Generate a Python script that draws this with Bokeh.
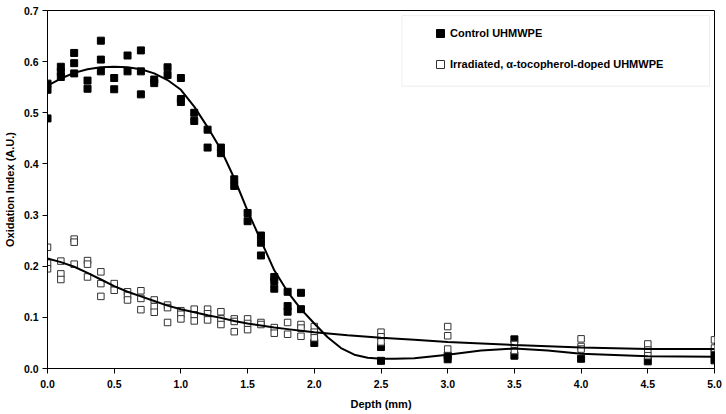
from bokeh.plotting import figure
from bokeh.models import (Range1d, FixedTicker, NumeralTickFormatter, Legend,
                          LegendItem, BoxAnnotation)
from bokeh.embed import file_html
from bokeh.resources import INLINE

# ---------------- data ----------------
control_depth = [0.0, 0.1, 0.2, 0.3, 0.4, 0.5, 0.6, 0.7, 0.8, 0.9, 1.0, 1.1, 1.2,
                 1.3, 1.4, 1.5, 1.6, 1.7, 1.8, 1.9, 2.0, 2.5, 3.0, 3.5, 4.0, 4.5, 5.0]
control_oi = [
    [0.557, 0.545, 0.489], [0.590, 0.580, 0.570], [0.617, 0.597, 0.577],
    [0.563, 0.547], [0.641, 0.604, 0.581], [0.568, 0.546], [0.612, 0.581],
    [0.622, 0.581, 0.536], [0.565, 0.558], [0.589, 0.574], [0.568, 0.527, 0.521],
    [0.500, 0.484], [0.467, 0.432], [0.432, 0.421], [0.370, 0.357], [0.304, 0.288],
    [0.260, 0.246, 0.221], [0.179, 0.171, 0.156], [0.150, 0.122, 0.111],
    [0.148, 0.116], [0.050], [0.042, 0.015], [0.025, 0.018], [0.057, 0.025],
    [0.019], [0.014], [0.030, 0.016],
]

doped_depth = [0.0, 0.1, 0.2, 0.3, 0.4, 0.5, 0.6, 0.7, 0.8, 0.9, 1.0, 1.1, 1.2,
               1.3, 1.4, 1.5, 1.6, 1.7, 1.8, 1.9, 2.0, 2.5, 3.0, 3.5, 4.0, 4.5, 5.0]
doped_oi = [
    [0.237, 0.206, 0.195], [0.210, 0.185, 0.174], [0.253, 0.247, 0.204],
    [0.211, 0.204, 0.179], [0.189, 0.166, 0.141], [0.166, 0.153],
    [0.150, 0.143, 0.134], [0.152, 0.137, 0.115], [0.134, 0.121, 0.110],
    [0.124, 0.119, 0.090], [0.113, 0.106, 0.097], [0.116, 0.105, 0.093],
    [0.116, 0.107, 0.095], [0.111, 0.097, 0.086], [0.097, 0.092, 0.072],
    [0.097, 0.088, 0.076], [0.090, 0.086], [0.080, 0.069], [0.090, 0.067],
    [0.086, 0.079, 0.063], [0.082, 0.071, 0.060], [0.071, 0.062, 0.052],
    [0.082, 0.064, 0.038], [0.047, 0.035], [0.058, 0.043, 0.038],
    [0.048, 0.036, 0.025], [0.056, 0.040],
]

# fitted curves
control_fit_x = [0.0, 0.1, 0.2, 0.3, 0.4, 0.5, 0.6, 0.7, 0.8, 0.9, 1.0, 1.1, 1.2, 1.3,
                 1.4, 1.5, 1.6, 1.7, 1.8, 1.9, 2.0, 2.1, 2.2, 2.3, 2.4, 2.5, 2.6,
                 2.75, 3.0, 3.25, 3.5, 3.75, 4.0, 4.5, 5.0]
control_fit_y = [0.553, 0.567, 0.578, 0.585, 0.589, 0.590, 0.589, 0.585, 0.577, 0.564,
                 0.545, 0.512, 0.472, 0.428, 0.372, 0.308, 0.250, 0.192, 0.150, 0.116,
                 0.088, 0.061, 0.040, 0.027, 0.021, 0.019, 0.019, 0.020, 0.027, 0.035,
                 0.039, 0.035, 0.029, 0.024, 0.023]

doped_fit_x = [0.0, 0.1, 0.2, 0.3, 0.4, 0.5, 0.6, 0.7, 0.8, 0.9, 1.0, 1.1, 1.2, 1.3,
               1.4, 1.5, 1.6, 1.7, 1.8, 1.9, 2.0, 2.25, 2.5, 2.75, 3.0, 3.5, 4.0, 4.5, 5.0]
doped_fit_y = [0.215, 0.208, 0.199, 0.187, 0.174, 0.161, 0.150, 0.141, 0.132, 0.123,
               0.116, 0.110, 0.104, 0.099, 0.093, 0.088, 0.084, 0.080, 0.077, 0.074,
               0.071, 0.065, 0.060, 0.056, 0.052, 0.046, 0.041, 0.038, 0.038]

x_ticks = [0.0, 0.5, 1.0, 1.5, 2.0, 2.5, 3.0, 3.5, 4.0, 4.5, 5.0]
y_ticks = [0.0, 0.1, 0.2, 0.3, 0.4, 0.5, 0.6, 0.7]

labels = ["Control UHMWPE", "Irradiated, \u03b1-tocopherol-doped UHMWPE"]

cx = [d for d, vals in zip(control_depth, control_oi) for _ in vals]
cy = [v for vals in control_oi for v in vals]
dx = [d for d, vals in zip(doped_depth, doped_oi) for _ in vals]
dy = [v for vals in doped_oi for v in vals]

FONT = "Liberation Sans"

p = figure(width=726, height=414, output_backend="svg", toolbar_location=None,
           x_range=Range1d(0, 5), y_range=Range1d(0, 0.7),
           min_border_left=46, min_border_right=12, min_border_top=10,
           min_border_bottom=46)
p.xgrid.visible = False
p.ygrid.visible = False
p.outline_line_color = "black"
p.outline_line_width = 1
p.background_fill_color = "white"
p.border_fill_color = "white"

r1 = p.scatter(cx, cy, marker="square", size=7, fill_color="black",
               line_color="black", line_width=1)
r2 = p.scatter(dx, dy, marker="square", size=6.5, fill_color="white",
               line_color="#333333", line_width=1)
p.line(control_fit_x, control_fit_y, line_width=2, line_color="black")
p.line(doped_fit_x, doped_fit_y, line_width=2, line_color="black")

p.xaxis.ticker = FixedTicker(ticks=x_ticks)
p.yaxis.ticker = FixedTicker(ticks=y_ticks)
p.xaxis.formatter = NumeralTickFormatter(format="0.0")
p.yaxis.formatter = NumeralTickFormatter(format="0.0")
p.xaxis.axis_label = "Depth (mm)"
p.yaxis.axis_label = "Oxidation Index (A.U.)"

for ax in (p.xaxis[0], p.yaxis[0]):
    ax.axis_line_color = "black"
    ax.axis_line_width = 1
    ax.major_tick_line_color = "black"
    ax.major_tick_out = 5
    ax.major_tick_in = 0
    ax.minor_tick_line_color = None
    ax.major_label_text_font = FONT
    ax.major_label_text_font_style = "bold"
    ax.major_label_text_font_size = "10.5px"
    ax.major_label_text_color = "black"
    ax.axis_label_text_font = FONT
    ax.axis_label_text_font_style = "bold"
    ax.axis_label_text_font_size = "11px"
    ax.axis_label_text_color = "black"
p.xaxis.major_label_standoff = 6
p.xaxis.axis_label_standoff = 7
p.yaxis.major_label_standoff = 4
p.yaxis.axis_label_standoff = 5

box = BoxAnnotation(left=2.657, right=4.963, top=0.690, bottom=0.552,
                    fill_color="white", fill_alpha=1, line_color="#c8c8c8",
                    line_width=1)
p.add_layout(box)

legend = Legend(items=[LegendItem(label=labels[0], renderers=[r1]),
                       LegendItem(label=labels[1], renderers=[r2])],
                location=(383, 294), padding=0, margin=0, spacing=11,
                glyph_width=20, glyph_height=20, label_height=20,
                label_standoff=0, border_line_color=None,
                background_fill_alpha=0,
                label_text_font=FONT, label_text_font_style="bold",
                label_text_font_size="11px", label_text_color="black")
p.add_layout(legend)

open("out.html", "w").write(file_html(p, INLINE))
